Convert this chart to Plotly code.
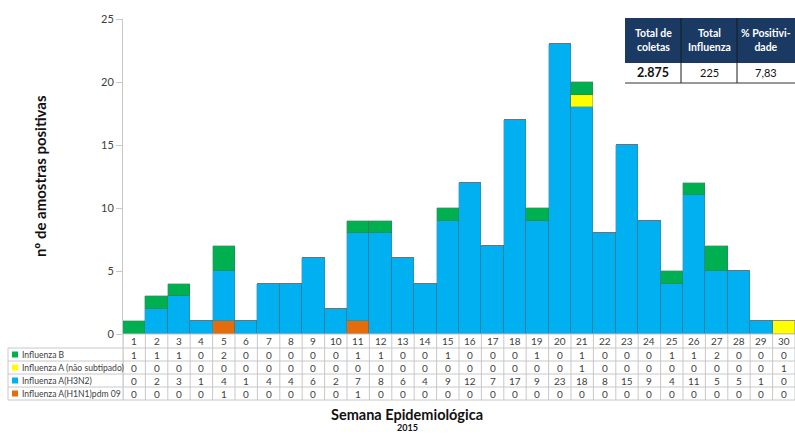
import plotly.graph_objects as go

# Weekly counts of positive samples by influenza type (2015)
weeks = list(range(1, 31))
flu_b = [1, 1, 1, 0, 2, 0, 0, 0, 0, 0, 1, 1, 0, 0, 1, 0, 0, 0, 1, 0, 1, 0, 0, 0, 1, 1, 2, 0, 0, 0]
flu_a_nst = [0, 0, 0, 0, 0, 0, 0, 0, 0, 0, 0, 0, 0, 0, 0, 0, 0, 0, 0, 0, 1, 0, 0, 0, 0, 0, 0, 0, 0, 1]
flu_h3n2 = [0, 2, 3, 1, 4, 1, 4, 4, 6, 2, 7, 8, 6, 4, 9, 12, 7, 17, 9, 23, 18, 8, 15, 9, 4, 11, 5, 5, 1, 0]
flu_h1n1 = [0, 0, 0, 0, 1, 0, 0, 0, 0, 0, 1, 0, 0, 0, 0, 0, 0, 0, 0, 0, 0, 0, 0, 0, 0, 0, 0, 0, 0, 0]

series_names = ["Influenza B", "Influenza A (não subtipado)", "Influenza A(H3N2)", "Influenza A(H1N1)pdm 09"]
series_values = [flu_b, flu_a_nst, flu_h3n2, flu_h1n1]
series_colors = ["#00B050", "#FFFF00", "#00B0F0", "#E46C0A"]

# Summary box
summary_headers = ["Total de<br>coletas", "Total<br>Influenza", "% Positivi-<br>dade"]
summary_values = ["2.875", "225", "7,83"]

W, H = 795, 434
L, R, T, B = 123, 0, 19, 100
PW, PH = W - L - R, H - T - B


def px(xp):
    return (xp - L) / PW


def py(yp):
    return (H - B - yp) / PH


def note(x, y, text, size, color, xref="paper", xanchor="center", **kw):
    return dict(xref=xref, yref="paper", x=x, y=y, text=text, showarrow=False,
                xanchor=xanchor, yanchor="middle",
                font=dict(family="Lato", size=size, color=color), **kw)


fig = go.Figure()
# stacking order: bottom to top
for idx in [3, 2, 1, 0]:
    fig.add_trace(go.Bar(
        x=weeks, y=series_values[idx], name=series_names[idx],
        marker=dict(color=series_colors[idx], line=dict(color="rgba(90,90,90,0.55)", width=0.6)),
        showlegend=False,
    ))

shapes = []
annotations = []
grid = "#c8c8c8"
txt = "#404040"

# data table under the chart
row_edges = [334, 348, 361, 374, 387, 400]
shapes.append(dict(type="line", xref="x", yref="paper", x0=0.5, x1=30.5, y0=py(334), y1=py(334),
                   line=dict(color=grid, width=1)))
for ye in row_edges[1:]:
    shapes.append(dict(type="line", xref="paper", yref="paper", x0=px(8), x1=1, y0=py(ye), y1=py(ye),
                       line=dict(color=grid, width=1)))
for k in range(31):
    shapes.append(dict(type="line", xref="x", yref="paper", x0=k + 0.5, x1=k + 0.5,
                       y0=py(334), y1=py(400), line=dict(color=grid, width=1)))
shapes.append(dict(type="line", xref="paper", yref="paper", x0=px(8), x1=px(8),
                   y0=py(348), y1=py(400), line=dict(color=grid, width=1)))
shapes.append(dict(type="line", xref="paper", yref="paper", x0=0, x1=0,
                   y0=py(334), y1=py(400), line=dict(color=grid, width=1)))

# header row: week numbers
for w in weeks:
    annotations.append(note(w, py(341), str(w), 10, txt, xref="x"))
# series rows
for r, (name, vals, col) in enumerate(zip(series_names, series_values, series_colors)):
    yc = (row_edges[r + 1] + row_edges[r + 2]) / 2
    shapes.append(dict(type="rect", xref="paper", yref="paper", x0=px(12), x1=px(18),
                       y0=py(yc + 3), y1=py(yc - 3), fillcolor=col, line=dict(width=0)))
    annotations.append(note(px(19.5), py(yc), name, 8.6, txt, xanchor="left"))
    for w, v in zip(weeks, vals):
        annotations.append(note(w, py(yc), str(v), 10, txt, xref="x"))

# summary box (top right)
col_edges = [625, 681, 737, 795]
shapes.append(dict(type="rect", xref="paper", yref="paper", x0=px(625), x1=1, y0=py(63), y1=py(18),
                   fillcolor="#1B3A63", line=dict(width=0)))
shapes.append(dict(type="rect", xref="paper", yref="paper", x0=px(625), x1=1, y0=py(83), y1=py(63),
                   fillcolor="white", line=dict(width=0)))
for xe in col_edges[1:3]:
    shapes.append(dict(type="line", xref="paper", yref="paper", x0=px(xe), x1=px(xe), y0=py(83), y1=py(18),
                       line=dict(color="#1a1a1a", width=1)))
shapes.append(dict(type="line", xref="paper", yref="paper", x0=px(625), x1=1, y0=py(83), y1=py(83),
                   line=dict(color="#333333", width=1)))
for i in range(3):
    xc = (col_edges[i] + col_edges[i + 1]) / 2
    annotations.append(note(px(xc), py(40.5), "<b>" + summary_headers[i] + "</b>", 10.5, "white"))
    val = "<b>" + summary_values[i] + "</b>" if i == 0 else summary_values[i]
    annotations.append(note(px(xc), py(73), val, 12.5 if i == 0 else 11, "#111111"))

# axis titles
annotations.append(note(px(40), py(176), "<b>nº de amostras positivas</b>", 15, "#111111", textangle=-90))
annotations.append(note(px(407), py(414), "<b>Semana Epidemiológica</b>", 14.5, "#111111"))
annotations.append(note(px(407), py(427.5), "<b>2015</b>", 9, "#111111"))

fig.update_layout(
    width=W, height=H,
    margin=dict(l=L, r=R, t=T, b=B),
    paper_bgcolor="white", plot_bgcolor="white",
    barmode="stack", bargap=0,
    xaxis=dict(range=[0.5, 30.5], showticklabels=False, showgrid=False, zeroline=False, ticks=""),
    yaxis=dict(range=[0, 25], dtick=5, showgrid=False, zeroline=False, showline=True,
               linecolor=grid, linewidth=1, ticks="outside", ticklen=6, tickcolor=grid,
               tickfont=dict(family="Lato", size=11, color="#404040")),
    shapes=shapes,
    annotations=annotations,
)

fig.write_html("out.html")
